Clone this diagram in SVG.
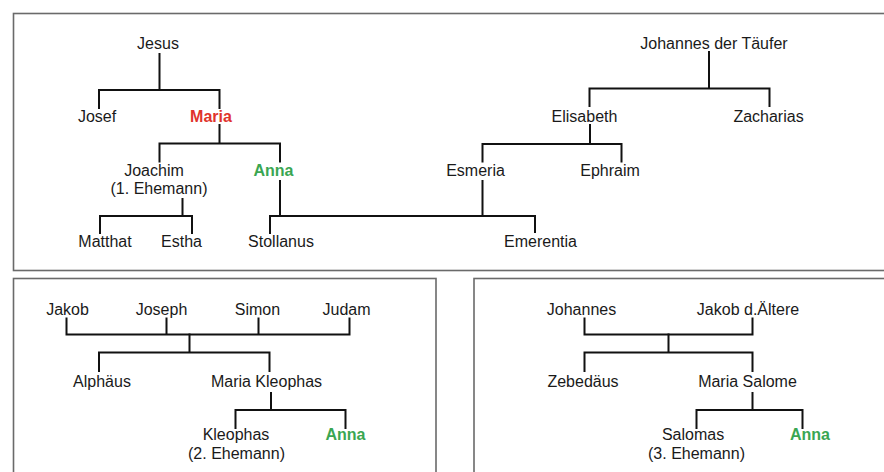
<svg xmlns="http://www.w3.org/2000/svg" width="884" height="472" viewBox="0 0 884 472">
  <style>
    .panel { fill: #ffffff; stroke: #6a6a6a; stroke-width: 1.6; }
    .lbl { font-family: "Liberation Sans", Arial, sans-serif; font-size: 16px; fill: #1a1a1a; text-anchor: middle; }
    .red { font-weight: bold; fill: #e0332b; }
    .green { font-weight: bold; fill: #3aa652; }
    #connectors path { fill: none; stroke: #111111; stroke-width: 2; stroke-linecap: square; stroke-linejoin: miter; }
  </style>
  <rect width="884" height="472" fill="#ffffff"/>

  <!-- panels -->
  <g id="panels">
    <rect class="panel" x="13.5" y="13.5" width="890" height="257"/>
    <rect class="panel" x="13.5" y="278.5" width="422.5" height="210"/>
    <rect class="panel" x="474" y="278.5" width="430" height="210"/>
  </g>

  <!-- connectors -->
  <g id="connectors">
    <!-- Jesus -> Josef, Maria -->
    <path d="M159.5 54 V90 M99 108 V90 H219.5 V108"/>
    <!-- Maria -> Joachim, Anna -->
    <path d="M219.5 125 V143.5 M159.5 161.5 V143.5 H280 V161.5"/>
    <!-- Joachim -> Matthat, Estha -->
    <path d="M182.5 199 V216 M100 233 V216 H192 V233"/>
    <!-- Anna + Esmeria -> Stollanus, Emerentia -->
    <path d="M280 181 V216 M482.5 181 V216 M270 233 V216 H535 V232"/>
    <!-- Johannes der Täufer -> Elisabeth, Zacharias -->
    <path d="M709 52 V88.5 M589.5 106 V88.5 H769.5 V106"/>
    <!-- Elisabeth -> Esmeria, Ephraim -->
    <path d="M590 125 V144 M482.5 161.5 V144 H621.5 V161.5"/>

    <!-- Jakob, Joseph, Simon, Judam -> Alphäus, Maria Kleophas -->
    <path d="M66.5 318.5 V334.5 H349.5 V318.5 M166.5 318.5 V334.5 M258.5 318.5 V334.5"/>
    <path d="M189.5 334.5 V352.5 M99 371 V352.5 H269.5 V371"/>
    <!-- Maria Kleophas -> Kleophas, Anna -->
    <path d="M271 393 V410 M235.5 428 V410 H345.5 V428"/>

    <!-- Johannes, Jakob d.Ältere -> Zebedäus, Maria Salome -->
    <path d="M584.5 318.5 V334.5 H752.5 V318.5"/>
    <path d="M668.5 334.5 V352.5 M584.5 371 V352.5 H752.5 V371"/>
    <!-- Maria Salome -> Salomas, Anna -->
    <path d="M752.5 393 V410 M696.5 428 V410 H802.5 V428"/>
  </g>

  <!-- nodes: top panel -->
  <g id="jesus"><text class="lbl" x="158" y="49">Jesus</text></g>
  <g id="josef"><text class="lbl" x="97" y="121.5">Josef</text></g>
  <g id="maria"><text class="lbl red" x="211" y="121.5">Maria</text></g>
  <g id="joachim">
    <text class="lbl" x="154" y="175.5">Joachim</text>
    <text class="lbl" x="159" y="194">(1. Ehemann)</text>
  </g>
  <g id="anna-1"><text class="lbl green" x="273.5" y="175.5">Anna</text></g>
  <g id="matthat"><text class="lbl" x="105" y="246.5">Matthat</text></g>
  <g id="estha"><text class="lbl" x="181.5" y="246.5">Estha</text></g>
  <g id="stollanus"><text class="lbl" x="281" y="246.5">Stollanus</text></g>
  <g id="johannes-der-taeufer"><text class="lbl" x="714" y="49">Johannes der Täufer</text></g>
  <g id="elisabeth"><text class="lbl" x="584.5" y="121.5">Elisabeth</text></g>
  <g id="zacharias"><text class="lbl" x="768.5" y="121.5">Zacharias</text></g>
  <g id="esmeria"><text class="lbl" x="475.5" y="175.5">Esmeria</text></g>
  <g id="ephraim"><text class="lbl" x="610" y="175.5">Ephraim</text></g>
  <g id="emerentia"><text class="lbl" x="540.5" y="246.5">Emerentia</text></g>

  <!-- nodes: lower left panel -->
  <g id="jakob"><text class="lbl" x="67.5" y="315">Jakob</text></g>
  <g id="joseph"><text class="lbl" x="161.5" y="315">Joseph</text></g>
  <g id="simon"><text class="lbl" x="257.5" y="315">Simon</text></g>
  <g id="judam"><text class="lbl" x="346.5" y="315">Judam</text></g>
  <g id="alphaeus"><text class="lbl" x="102" y="386.5">Alphäus</text></g>
  <g id="maria-kleophas"><text class="lbl" x="266.5" y="386.5">Maria Kleophas</text></g>
  <g id="kleophas">
    <text class="lbl" x="236" y="440">Kleophas</text>
    <text class="lbl" x="236.5" y="459">(2. Ehemann)</text>
  </g>
  <g id="anna-2"><text class="lbl green" x="345.5" y="440">Anna</text></g>

  <!-- nodes: lower right panel -->
  <g id="johannes"><text class="lbl" x="581.5" y="315">Johannes</text></g>
  <g id="jakob-der-aeltere"><text class="lbl" x="748" y="315">Jakob d.Ältere</text></g>
  <g id="zebedaeus"><text class="lbl" x="583" y="386.5">Zebedäus</text></g>
  <g id="maria-salome"><text class="lbl" x="747.5" y="386.5">Maria Salome</text></g>
  <g id="salomas">
    <text class="lbl" x="693" y="440">Salomas</text>
    <text class="lbl" x="696.5" y="459">(3. Ehemann)</text>
  </g>
  <g id="anna-3"><text class="lbl green" x="810" y="440">Anna</text></g>
</svg>
